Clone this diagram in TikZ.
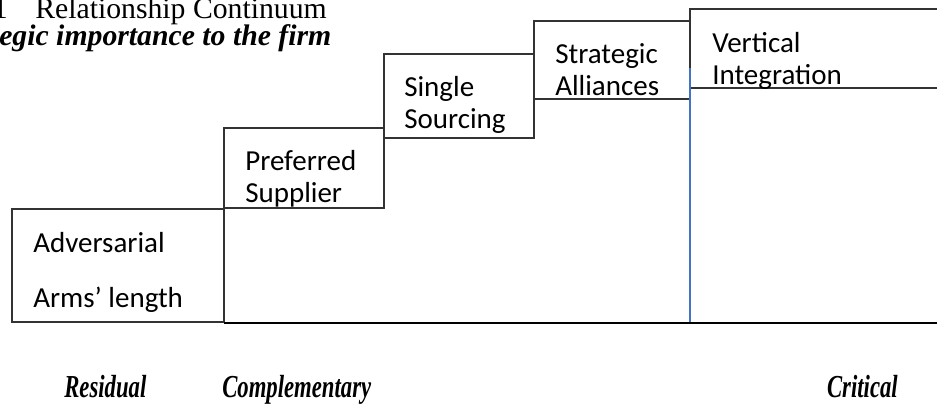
\documentclass[tikz,border=0pt]{standalone}
\usepackage{fontspec}
\usepackage{graphicx}
\setmainfont{Liberation Serif}
\newfontfamily\boxfont{Carlito}
\definecolor{lineblue}{HTML}{4472C4}
\definecolor{linegray}{HTML}{333333}
\newcommand{\narrowtext}[1]{\scalebox{0.71}[1]{#1}}
\begin{document}
\begin{tikzpicture}[x=0.75pt,y=-0.75pt,
  boxline/.style={draw=linegray,line width=0.9pt},
  baseline/.style={draw=black,line width=1.6pt},
  blueline/.style={draw=lineblue,line width=1.2pt},
  boxtext/.style={anchor=base west,inner sep=0pt,font=\boxfont\fontsize{21.75}{26}\selectfont},
  titletext/.style={anchor=base west,inner sep=0pt,font=\fontsize{22.3}{27}\selectfont},
  titlebold/.style={anchor=base west,inner sep=0pt,font=\bfseries\itshape\fontsize{22.3}{27}\selectfont},
  axistext/.style={anchor=base west,inner sep=0pt,font=\bfseries\itshape\fontsize{24}{28}\selectfont}]
\useasboundingbox (0,0) rectangle (937,412);
% boxes
\draw[boxline] (12,209) rectangle (224,322);
\draw[boxline] (224,128) rectangle (384,208);
\draw[boxline] (384,54) rectangle (534,138);
\draw[boxline] (534,21) rectangle (690,99);
\coordinate (vtl) at (690,9);
\coordinate (vtr) at (940,9);
\coordinate (vml) at (690,88);
\coordinate (vmr) at (940,88);
\coordinate (vbl) at (690,68);
\coordinate (vbb) at (690,322);
\draw[boxline] (vtr) -- (vtl) -- (vbl);
\draw[boxline] (vml) -- (vmr);
\draw[baseline] (224,323) -- (940,323);
\draw[blueline] (vbl) -- (vbb);
% box texts
\node[boxtext] (adv) at (33,252) {Adversarial};
\node[boxtext] (arm) at (33,307) {Arms’ length};
\node[boxtext] (pre1) at (245,170) {Preferred};
\node[boxtext] (pre2) at (245,202) {Supplier};
\node[boxtext] (sin1) at (404,96) {Single};
\node[boxtext] (sin2) at (404,128) {Sourcing};
\node[boxtext] (str1) at (555,63) {Strategic};
\node[boxtext] (str2) at (555,95) {Alliances};
\node[boxtext] (ver1) at (712,52) {Vertical};
\node[boxtext] (ver2) at (712,84) {Integration};
% titles
\node[titletext,anchor=base east] (num) at (8,18) {1};
\node[titletext] (tit) at (35,18) {Relationship Continuum};
\node[titlebold] (sub) at (-1,45) {egic importance to the firm};
% axis labels
\node[axistext] (res) at (64,397) {\narrowtext{Residual}};
\node[axistext] (com) at (222,397) {\narrowtext{Complementary}};
\node[axistext,anchor=base east] (cri) at (898,397) {\narrowtext{Critical}};
\end{tikzpicture}
\end{document}
